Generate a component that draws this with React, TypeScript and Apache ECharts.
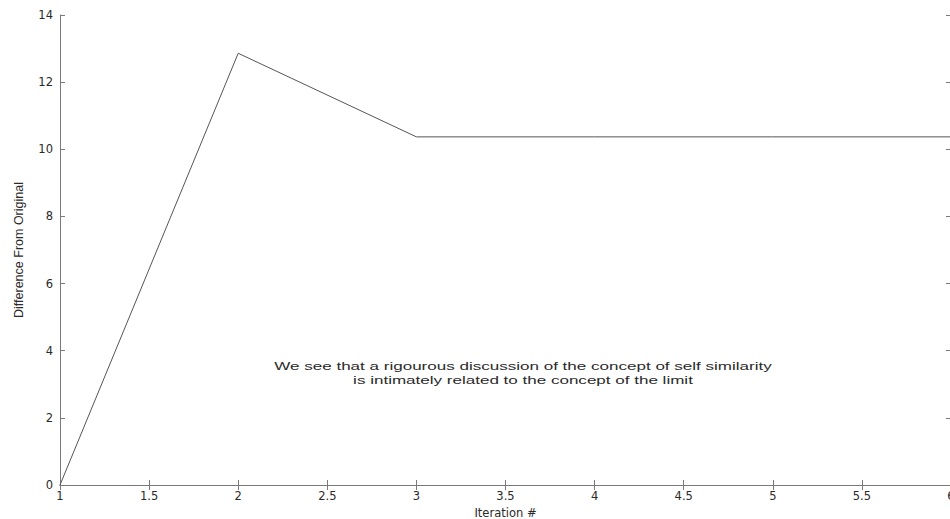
import React, { useEffect, useRef } from "react";
import * as echarts from "echarts";

const iterations = [1, 2, 3, 4, 5, 6];
const differences = [0, 12.86, 10.37, 10.37, 10.37, 10.37];
const xTicks = [1, 1.5, 2, 2.5, 3, 3.5, 4, 4.5, 5, 5.5, 6];
const yTicks = [0, 2, 4, 6, 8, 10, 12, 14];
const noteLines = [
  "We see that a rigourous discussion of the concept of self similarity",
  "is intimately related to the concept of the limit",
];

const FONT = "'Liberation Sans', Arial, Helvetica, sans-serif";
const WIDE = "'DejaVu Sans', Verdana, sans-serif";
const AXIS = "#7a7a7a";
const TEXT = "#2a2a2a";

export default function App() {
  const ref = useRef<HTMLDivElement>(null);
  useEffect(() => {
    if (!ref.current) return;
    const chart = echarts.init(ref.current, null, { renderer: "svg" });
    const axisBase = {
      type: "value" as const,
      axisLine: { show: true, lineStyle: { color: AXIS, width: 1 } },
      axisTick: { show: true, inside: true, length: 5, lineStyle: { color: AXIS } },
      splitLine: { show: false },
    };
    chart.setOption({
      animation: false,
      backgroundColor: "#fff",
      grid: { left: 60, right: -1, top: 15, bottom: 34, outerBoundsMode: "none", containLabel: false },
      xAxis: [
        {
          ...axisBase,
          min: xTicks[0],
          max: xTicks[xTicks.length - 1],
          interval: 0.5,
          position: "bottom",
          axisLabel: { color: TEXT, fontFamily: WIDE, fontSize: 11.5, margin: 5 },
          name: "Iteration #",
          nameLocation: "middle",
          nameGap: 21,
          nameTextStyle: { color: TEXT, fontFamily: WIDE, fontSize: 11.5 },
        },
        {
          ...axisBase,
          min: xTicks[0],
          max: xTicks[xTicks.length - 1],
          interval: 0.5,
          position: "top",
          axisLabel: { show: false },
        },
      ],
      yAxis: [
        {
          ...axisBase,
          min: yTicks[0],
          max: yTicks[yTicks.length - 1],
          interval: 2,
          position: "left",
          axisLabel: { color: TEXT, fontFamily: WIDE, fontSize: 11.5, margin: 7 },
          name: "Difference From Original",
          nameLocation: "middle",
          nameGap: 35,
          nameTextStyle: { color: TEXT, fontFamily: FONT, fontSize: 12.5 },
        },
        {
          ...axisBase,
          min: yTicks[0],
          max: yTicks[yTicks.length - 1],
          interval: 2,
          position: "right",
          axisLabel: { show: false },
        },
      ],
      graphic: [
        {
          type: "text",
          x: 523,
          y: 359,
          scaleX: 1.55,
          style: {
            text: noteLines.join("\n"),
            fill: TEXT,
            font: `11px ${FONT}`,
            align: "center",
            verticalAlign: "top",
            lineHeight: 14,
          },
        },
      ],
      series: [
        {
          type: "line",
          data: iterations.map((x, i) => [x, differences[i]]),
          showSymbol: false,
          lineStyle: { color: "#555", width: 1 },
          xAxisIndex: 0,
          yAxisIndex: 0,
        },
      ],
    });
    return () => chart.dispose();
  }, []);
  return (
    <div
      ref={ref}
      style={{ position: "absolute", left: 0, top: 0, width: 950, height: 519 }}
    />
  );
}
